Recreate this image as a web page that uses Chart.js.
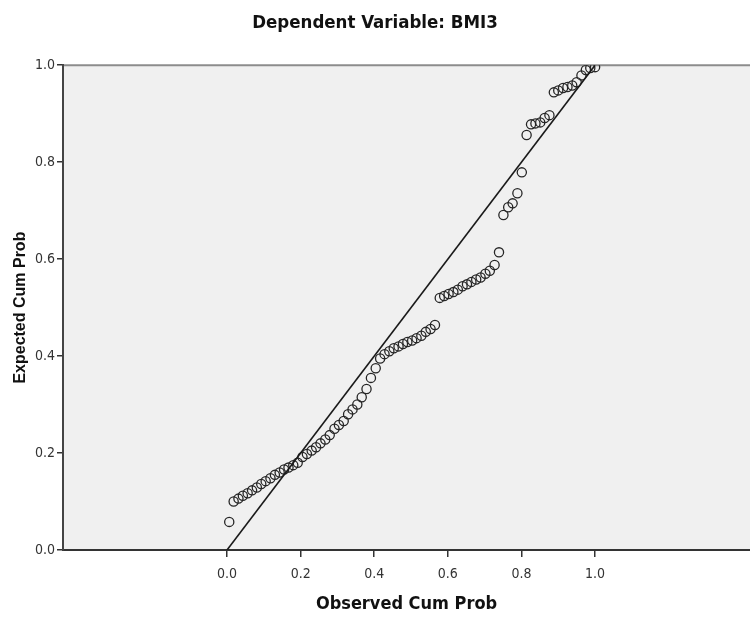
<!DOCTYPE html>
<html>
<head>
<meta charset="utf-8">
<script src="https://cdn.jsdelivr.net/npm/chart.js@4/dist/chart.umd.min.js"></script>
<style>
  html, body { margin: 0; padding: 0; background: #fff; }
  #wrap { width: 750px; height: 627px; }
</style>
</head>
<body>
<div id="wrap"><canvas id="chart-pp"></canvas></div>
<script>
// Normal P-P plot of regression standardized residual
const observedCumProb = [
  0.006, 0.018, 0.031, 0.043, 0.056, 0.068, 0.081, 0.093, 0.105, 0.118,
  0.130, 0.143, 0.155, 0.167, 0.180, 0.192, 0.205, 0.217, 0.230, 0.242,
  0.254, 0.267, 0.279, 0.292, 0.304, 0.317, 0.329, 0.341, 0.354, 0.366,
  0.379, 0.391, 0.404, 0.416, 0.428, 0.441, 0.453, 0.466, 0.478, 0.490,
  0.503, 0.515, 0.528, 0.540, 0.553, 0.565, 0.578, 0.590, 0.602, 0.615,
  0.627, 0.640, 0.652, 0.664, 0.677, 0.689, 0.702, 0.714, 0.727, 0.739,
  0.751, 0.764, 0.776, 0.789, 0.801, 0.814, 0.826, 0.838, 0.851, 0.863,
  0.876, 0.888, 0.900, 0.913, 0.925, 0.938, 0.950, 0.963, 0.975, 0.987,
  1.000
];
const expectedCumProb = [
  0.058, 0.100, 0.106, 0.112, 0.117, 0.123, 0.129, 0.136, 0.142, 0.148,
  0.155, 0.160, 0.166, 0.170, 0.175, 0.180, 0.192, 0.198, 0.205, 0.212,
  0.220, 0.228, 0.237, 0.250, 0.258, 0.266, 0.280, 0.290, 0.300, 0.315,
  0.332, 0.355, 0.375, 0.395, 0.404, 0.410, 0.416, 0.420, 0.425, 0.429,
  0.432, 0.437, 0.442, 0.450, 0.456, 0.464, 0.520, 0.524, 0.528, 0.532,
  0.537, 0.544, 0.548, 0.553, 0.558, 0.562, 0.570, 0.576, 0.588, 0.614,
  0.691, 0.707, 0.715, 0.736, 0.779, 0.856, 0.878, 0.880, 0.882, 0.891,
  0.897, 0.944, 0.948, 0.953, 0.955, 0.958, 0.965, 0.979, 0.990, 0.994,
  0.996
];
const diagonal = [0, 1];
const xTicks = [0, 0.2, 0.4, 0.6, 0.8, 1.0];
const yTicks = [0, 0.2, 0.4, 0.6, 0.8, 1.0];

const narrow = "'Liberation Sans Narrow', 'Arial Narrow', 'DejaVu Sans Condensed', sans-serif";

// grey plot background plus the upper frame line
const plotFrame = {
  id: 'plotFrame',
  beforeDraw(chart) {
    const { ctx, chartArea: a } = chart;
    ctx.save();
    ctx.fillStyle = '#f0f0f0';
    ctx.fillRect(a.left, a.top, a.right - a.left, a.bottom - a.top);
    ctx.strokeStyle = '#8c8c8c';
    ctx.lineWidth = 2;
    ctx.beginPath();
    ctx.moveTo(a.left, a.top);
    ctx.lineTo(a.right, a.top);
    ctx.stroke();
    ctx.restore();
  }
};

new Chart(document.getElementById('chart-pp'), {
  type: 'scatter',
  data: {
    datasets: [
      {
        label: 'Observed',
        data: observedCumProb.map((x, i) => ({ x, y: expectedCumProb[i] })),
        pointStyle: 'circle',
        pointRadius: 4.6,
        pointBorderWidth: 1.3,
        pointBorderColor: '#262626',
        pointBackgroundColor: 'rgba(0,0,0,0)',
        order: 2
      },
      {
        type: 'line',
        label: 'Reference',
        data: diagonal.map(v => ({ x: v, y: v })),
        borderColor: '#1a1a1a',
        borderWidth: 1.6,
        pointRadius: 0,
        fill: false,
        order: 1
      }
    ]
  },
  options: {
    responsive: true,
    maintainAspectRatio: false,
    animation: false,
    layout: { padding: 0, autoPadding: false },
    plugins: {
      legend: { display: false },
      tooltip: { enabled: false },
      title: {
        display: true,
        text: 'Dependent Variable: BMI3',
        color: '#111',
        font: { family: narrow, size: 18.5, weight: 'bold' },
        padding: { top: 12, bottom: 31 }
      }
    },
    scales: {
      x: {
        type: 'linear',
        min: -0.4457,
        max: 1.421,
        afterBuildTicks: s => { s.ticks = xTicks.map(v => ({ value: v })); },
        afterFit: s => { s.height = 77; },
        grid: { drawOnChartArea: false, drawTicks: true, tickLength: 7, color: '#333', lineWidth: 1.5 },
        border: { display: true, color: '#333', width: 2 },
        ticks: {
          color: '#333',
          padding: 9,
          font: { family: narrow, size: 14 },
          callback: v => v.toFixed(1)
        },
        title: {
          display: true,
          text: 'Observed Cum Prob',
          color: '#111',
          font: { family: narrow, size: 18, weight: 'bold' },
          padding: { top: 0, bottom: 12 }
        }
      },
      y: {
        type: 'linear',
        min: 0,
        max: 1,
        afterBuildTicks: s => { s.ticks = yTicks.map(v => ({ value: v })); },
        afterFit: s => { s.width = 63; },
        grid: { drawOnChartArea: false, drawTicks: true, tickLength: 6, color: '#333', lineWidth: 1.5 },
        border: { display: true, color: '#444', width: 2 },
        ticks: {
          color: '#333',
          padding: 2,
          font: { family: narrow, size: 14 },
          callback: v => v.toFixed(1)
        },
        title: {
          display: true,
          text: 'Expected Cum Prob',
          color: '#111',
          font: { family: "'Liberation Sans', Arial, sans-serif", size: 16, weight: 'bold' },
          padding: { top: 11, bottom: 0 }
        }
      }
    }
  },
  plugins: [plotFrame]
});
</script>
</body>
</html>
